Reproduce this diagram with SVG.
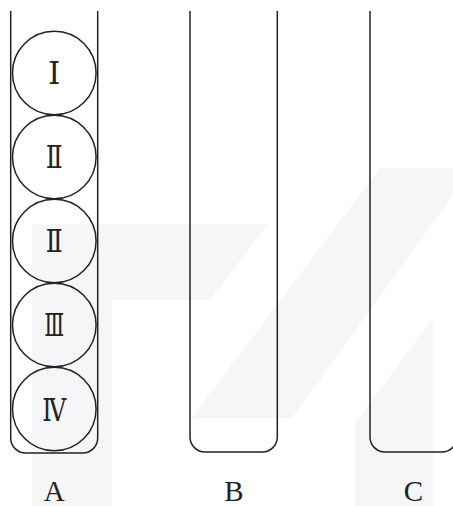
<svg xmlns="http://www.w3.org/2000/svg" width="453" height="506" viewBox="0 0 453 506">
<style>
.wm{fill:#f6f6f8;stroke:none}
.tube{fill:none;stroke:#222;stroke-width:1.5}
.ball{fill:none;stroke:#222;stroke-width:1.5}
.num{font-family:"DejaVu Serif","Liberation Serif",serif;font-size:32px;fill:#222;text-anchor:middle}
.lbl{font-family:"Liberation Serif","Times New Roman",serif;font-size:29px;fill:#222;text-anchor:middle}
</style>
<rect width="453" height="506" fill="#fff"/>
<g id="watermark">
<polygon class="wm" points="32,224 268,224 210,300 112,300 112,506 32,506"/>
<polygon class="wm" points="380,168 453,168 453,195 292,418 192,418"/>
<polygon class="wm" points="433,318 433,506 355,506 355,423"/>
</g>
<g id="tubeA">
<path class="tube" d="M10.7,11 V438 A15,15 0 0 0 25.7,453 H82.7 A15,15 0 0 0 97.7,438 V11"/>
<g id="ball1"><circle class="ball" cx="54.3" cy="73" r="41.8"/><text class="num" x="54.3" y="84" textLength="12" lengthAdjust="spacingAndGlyphs">Ⅰ</text></g>
<g id="ball2"><circle class="ball" cx="54.3" cy="157" r="41.8"/><text class="num" x="54.3" y="168" textLength="17" lengthAdjust="spacingAndGlyphs">Ⅱ</text></g>
<g id="ball3"><circle class="ball" cx="54.3" cy="241" r="41.8"/><text class="num" x="54.3" y="252" textLength="17" lengthAdjust="spacingAndGlyphs">Ⅱ</text></g>
<g id="ball4"><circle class="ball" cx="54.3" cy="325" r="41.8"/><text class="num" x="54.3" y="336" textLength="20" lengthAdjust="spacingAndGlyphs">Ⅲ</text></g>
<g id="ball5"><circle class="ball" cx="54.3" cy="409" r="41.8"/><text class="num" x="54.3" y="420.5" textLength="24" lengthAdjust="spacingAndGlyphs">Ⅳ</text></g>
<text class="lbl" x="54.3" y="501">A</text>
</g>
<g id="tubeB">
<path class="tube" d="M190,11 V437 A15,15 0 0 0 205,452 H262.3 A15,15 0 0 0 277.3,437 V11"/>
<text class="lbl" x="234" y="501">B</text>
</g>
<g id="tubeC">
<path class="tube" d="M370,11 V437 A15,15 0 0 0 385,452 H442 A15,15 0 0 0 457,437 V11"/>
<text class="lbl" x="413.5" y="501">C</text>
</g>
</svg>
